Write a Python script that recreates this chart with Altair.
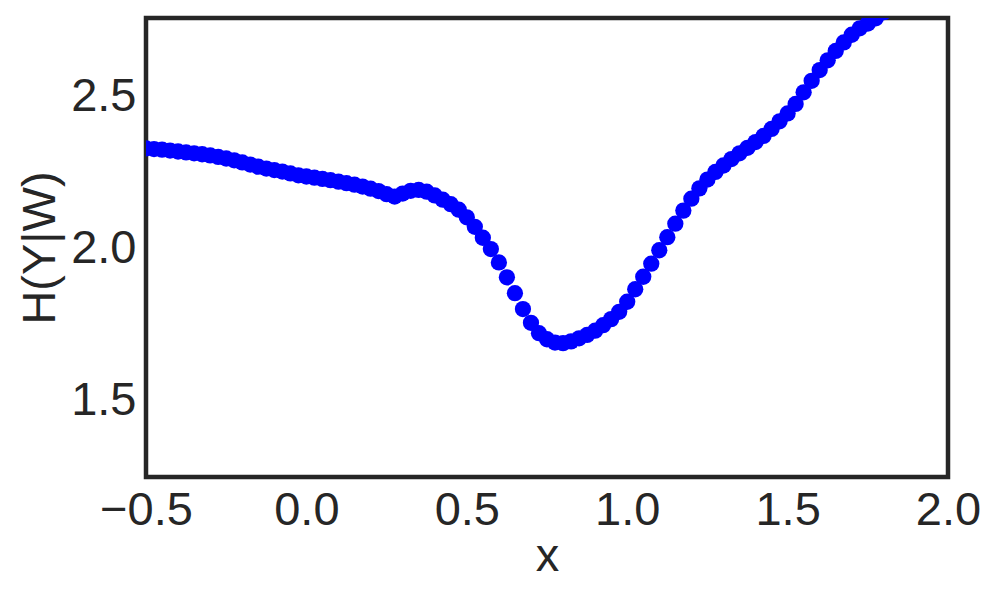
import altair as alt
import pandas as pd

x_vals = [-0.5, -0.475, -0.45, -0.425, -0.4, -0.375, -0.35, -0.325, -0.3, -0.275,
          -0.25, -0.225, -0.2, -0.175, -0.15, -0.125, -0.1, -0.075, -0.05, -0.025,
          0.0, 0.025, 0.05, 0.075, 0.1, 0.125, 0.15, 0.175, 0.2, 0.225,
          0.25, 0.275, 0.3, 0.325, 0.35, 0.375, 0.4, 0.425, 0.45, 0.475,
          0.5, 0.525, 0.55, 0.575, 0.6, 0.625, 0.65, 0.675, 0.7, 0.725,
          0.75, 0.775, 0.8, 0.825, 0.85, 0.875, 0.9, 0.925, 0.95, 0.975,
          1.0, 1.025, 1.05, 1.075, 1.1, 1.125, 1.15, 1.175, 1.2, 1.225,
          1.25, 1.275, 1.3, 1.325, 1.35, 1.375, 1.4, 1.425, 1.45, 1.475,
          1.5, 1.525, 1.55, 1.575, 1.6, 1.625, 1.65, 1.675, 1.7, 1.725,
          1.75, 1.775, 1.8]

h_vals = [2.328, 2.326, 2.324, 2.321, 2.318, 2.315, 2.312, 2.309, 2.305, 2.300,
          2.295, 2.289, 2.282, 2.275, 2.268, 2.262, 2.257, 2.252, 2.246, 2.240,
          2.236, 2.232, 2.228, 2.224, 2.219, 2.214, 2.209, 2.203, 2.196, 2.188,
          2.178, 2.170, 2.180, 2.189, 2.192, 2.186, 2.174, 2.160, 2.145, 2.127,
          2.102, 2.071, 2.035, 1.998, 1.954, 1.905, 1.853, 1.801, 1.756, 1.722,
          1.702, 1.691, 1.689, 1.695, 1.705, 1.716, 1.730, 1.748, 1.768, 1.792,
          1.825, 1.866, 1.907, 1.950, 1.994, 2.037, 2.081, 2.124, 2.163, 2.197,
          2.226, 2.251, 2.272, 2.293, 2.312, 2.330, 2.349, 2.369, 2.392, 2.417,
          2.443, 2.474, 2.512, 2.550, 2.585, 2.617, 2.648, 2.676, 2.701, 2.722,
          2.738, 2.755, 2.775]

x_ticks = [-0.5, 0.0, 0.5, 1.0, 1.5, 2.0]
y_ticks = [1.5, 2.0, 2.5]

df = pd.DataFrame({"x": x_vals, "h": h_vals})

FONT = "Liberation Sans"
TXT = "#262626"

chart = (
    alt.Chart(df)
    .mark_circle(size=265, color="#0000ff", opacity=1, clip=True)
    .encode(
        x=alt.X("x:Q", scale=alt.Scale(domain=[-0.5, 2.0], nice=False, zero=False),
                axis=alt.Axis(title="x", values=x_ticks, format=".1f", grid=False,
                              domain=False, ticks=False, labelPadding=10,
                              labelFontSize=47, titleFontSize=47, titlePadding=0,
                              labelFont=FONT, titleFont=FONT, labelColor=TXT,
                              titleColor=TXT, titleFontWeight="normal",
                              labelFlush=False, labelOverlap=False)),
        y=alt.Y("h:Q", scale=alt.Scale(domain=[1.25, 2.756], nice=False, zero=False),
                axis=alt.Axis(title="H(Y|W)", values=y_ticks, format=".1f", grid=False,
                              domain=False, ticks=False, labelPadding=10,
                              labelFontSize=47, titleFontSize=47, titlePadding=6,
                              labelFont=FONT, titleFont=FONT, labelColor=TXT,
                              titleColor=TXT, titleFontWeight="normal",
                              labelFlush=False, labelOverlap=False)),
    )
    .properties(
        width=802,
        height=459,
        autosize=alt.AutoSizeParams(type="none"),
        padding={"left": 138, "top": 10, "right": 40, "bottom": 120},
        background="white",
    )
    .configure_view(stroke=TXT, strokeWidth=4.5)
)

chart.save("out.html", embed_options={"renderer": "svg", "actions": False})
